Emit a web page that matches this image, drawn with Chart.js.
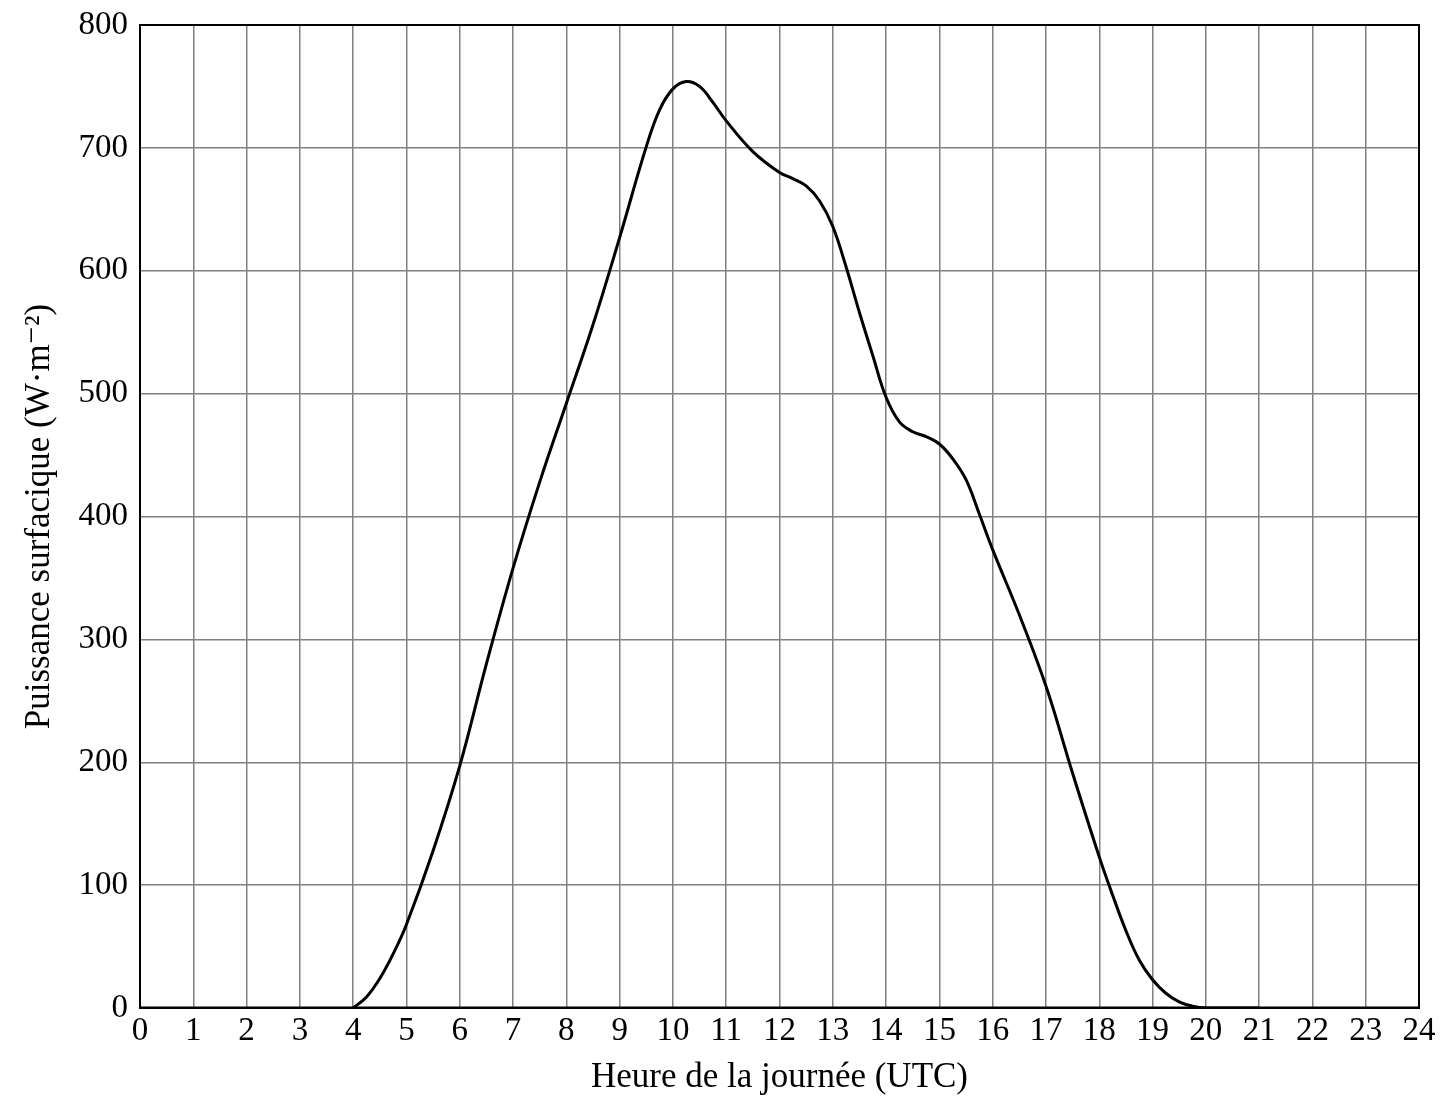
<!DOCTYPE html>
<html>
<head>
<meta charset="utf-8">
<script src="https://cdn.jsdelivr.net/npm/chart.js@4/dist/chart.umd.min.js"></script>
<style>
html,body{margin:0;padding:0;background:#fff;}
#wrap{width:1446px;height:1103px;}
</style>
</head>
<body>
<div id="wrap"><canvas id="c" width="1446" height="1103"></canvas></div>
<script>
// measured curve (hour -> W/m2), from sunrise to sunset
const hours = [4,4.25,4.5,4.75,5,5.5,6,6.5,7,7.5,8,8.5,9,9.5,9.75,10,10.25,10.5,10.75,11,11.5,12,12.25,12.5,12.75,13,13.25,13.5,13.75,14,14.25,14.5,14.75,15,15.25,15.5,15.75,16,16.5,17,17.5,18,18.25,18.5,18.75,19,19.25,19.5,19.75,20,21];
const power = [0,9,24,44,68,128,197,280,358,428,492,556,627,701,731,748,754,750,737,722,697,680,675,669,657,636,603,566,531,497,477,469,465,459,447,430,402,373,320,262,191,123,92,63,39,23,12,5,1.5,0,0];
// night-time zero baseline
const baseHours = [0,24];
const baseValues = [0,0];
const xLabel = 'Heure de la journée (UTC)';
const yLabel = 'Puissance surfacique (W·m⁻²)';

const FONT = "'Liberation Serif', 'DejaVu Serif', serif";
const frame = {
  id: 'frame',
  afterDraw(chart) {
    const a = chart.chartArea, ctx = chart.ctx;
    ctx.save();
    ctx.strokeStyle = '#000';
    ctx.lineWidth = 2;
    ctx.strokeRect(a.left, a.top, a.right - a.left, a.bottom - a.top);
    ctx.restore();
  }
};

new Chart(document.getElementById('c'), {
  type: 'line',
  data: {
    datasets: [{
      data: hours.map((h, i) => ({x: h, y: power[i]})),
      borderColor: '#000',
      borderWidth: 3,
      pointRadius: 0,
      tension: 0.4,
      fill: false
    }, {
      data: baseHours.map((h, i) => ({x: h, y: baseValues[i]})),
      borderColor: '#000',
      borderWidth: 3,
      pointRadius: 0,
      tension: 0,
      fill: false
    }]
  },
  options: {
    responsive: false,
    animation: false,
    layout: {padding: {top: 25, right: 27, left: 0, bottom: 0}},
    plugins: {legend: {display: false}, tooltip: {enabled: false}},
    scales: {
      x: {
        type: 'linear', min: 0, max: 24,
        afterFit(s) { s.height = 95; s.paddingLeft = 0; s.paddingRight = 0; },
        ticks: {stepSize: 1, color: '#000', padding: 4, maxRotation: 0, autoSkip: false,
                font: {family: FONT, size: 33}},
        grid: {color: '#808080', lineWidth: 1.5, drawTicks: false},
        border: {display: false},
        title: {display: true, text: xLabel, color: '#000', padding: {top: 0, bottom: 4},
                font: {family: FONT, size: 35}}
      },
      y: {
        min: 0, max: 800,
        afterFit(s) { s.width = 140; s.paddingTop = 0; s.paddingBottom = 0; },
        ticks: {stepSize: 100, color: '#000', padding: 12,
                font: {family: FONT, size: 33}},
        grid: {color: '#808080', lineWidth: 1.5, drawTicks: false},
        border: {display: false},
        title: {display: true, text: yLabel, color: '#000', padding: {top: 19, bottom: 0},
                font: {family: FONT, size: 35}}
      }
    }
  },
  plugins: [frame]
});
</script>
</body>
</html>
